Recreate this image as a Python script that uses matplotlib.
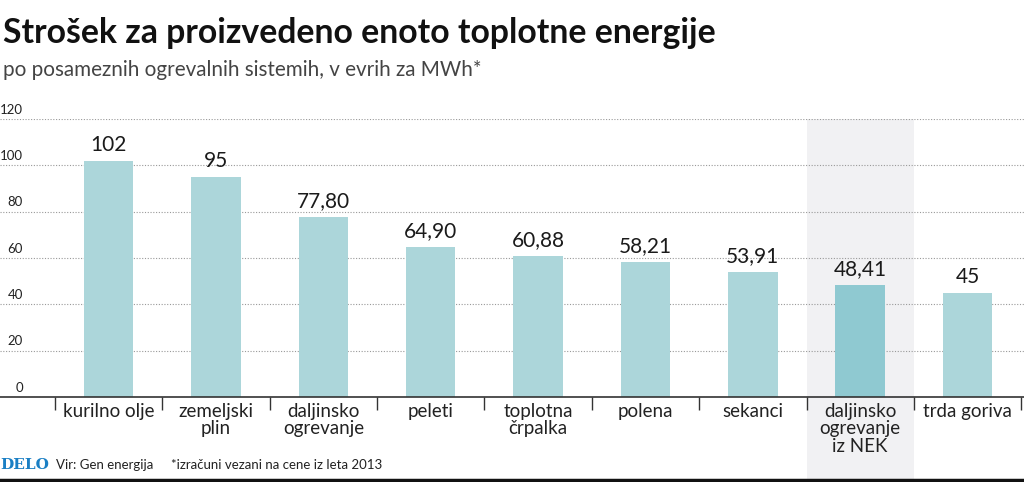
import numpy as np
import matplotlib.pyplot as plt
from matplotlib.patches import Rectangle

categories = ["kurilno olje", "zemeljski\nplin", "daljinsko\nogrevanje", "peleti",
              "toplotna\nčrpalka", "polena", "sekanci", "daljinsko\nogrevanje\niz NEK",
              "trda goriva"]
values = [102, 95, 77.80, 64.90, 60.88, 58.21, 53.91, 48.41, 45]
labels = ["102", "95", "77,80", "64,90", "60,88", "58,21", "53,91", "48,41", "45"]
yticks = [0, 20, 40, 60, 80, 100, 120]
highlight = 7

plt.rcParams['font.family'] = ['Lato', 'DejaVu Sans']

fig = plt.figure(figsize=(10.24, 4.82), dpi=100)
ax = fig.add_axes([0, 1 - 397 / 482, 1, (397 - 119) / 482])

x = np.arange(len(categories))
colors = ['#8fc9d1' if i == highlight else '#acd6da' for i in x]

# grey band behind highlighted category, running down into the label area
band = Rectangle((highlight - 0.5, -37), 1, 157, facecolor='#f1f1f3',
                 edgecolor='none', zorder=0, clip_on=False)
ax.add_patch(band)

ax.bar(x, values, width=0.46, color=colors, zorder=2)
for xi, v, lab in zip(x, values, labels):
    ax.text(xi, v + 2.5, lab, ha='center', va='bottom', fontsize=15, color='#1a1a1a')

ax.set_xlim(-1.013, 8.526)
ax.set_ylim(0, 120)
for t in yticks:
    ax.axhline(t, color='#999999', lw=0.8, ls=(0, (1, 1.5)), zorder=1)
    ax.text(-1.013 + 23 / 107.2, t + 1.5, str(t), ha='right', va='bottom', fontsize=9.5, color='#222222')

ax.set_yticks([])
ax.set_xticks(x)
ax.set_xticklabels(categories, fontsize=13.5, color='#222222', linespacing=1.05)
ax.tick_params(axis='x', which='major', length=0, pad=4)
ax.set_xticks(np.arange(-0.5, 9, 1), minor=True)
ax.tick_params(axis='x', which='minor', length=9, width=1, color='#333333')
for s in ['top', 'right', 'left']:
    ax.spines[s].set_visible(False)
ax.spines['bottom'].set_color('#333333')
ax.spines['bottom'].set_linewidth(1.2)
ax.patch.set_alpha(0)

fig.text(0.003, 0.965, "Strošek za proizvedeno enoto toplotne energije", fontsize=24.3,
         fontweight='bold', ha='left', va='top', color='#111111')
fig.text(0.003, 0.875, "po posameznih ogrevalnih sistemih, v evrih za MWh*", fontsize=14.9,
         ha='left', va='top', color='#444444')

fig.text(0.0, 1 - 465 / 482, "DELO", fontsize=11, fontweight='bold', family='DejaVu Serif',
         color='#1a7fc4', ha='left', va='center')
fig.text(0.055, 1 - 465 / 482, "Vir: Gen energija", fontsize=9.5, ha='left', va='center', color='#222222')
fig.text(0.167, 1 - 465 / 482, "*izračuni vezani na cene iz leta 2013", fontsize=9.5,
         ha='left', va='center', color='#222222')
fig.add_artist(plt.Line2D([0, 1], [1 - 480 / 482] * 2, color='#111111', lw=2.5, transform=fig.transFigure))

fig.savefig("out.png", dpi=100)
